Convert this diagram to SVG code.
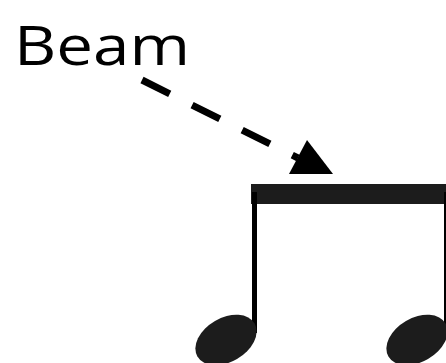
<svg xmlns="http://www.w3.org/2000/svg" width="446" height="363" viewBox="0 0 446 363">
<style>
.lbl{font-family:"Open Sans","Liberation Sans",sans-serif;font-size:54px;fill:#000}
.conn{stroke:#000;stroke-width:7;stroke-dasharray:31 25;fill:none}
.head{fill:#1c1c1c}
.stem{fill:#000}
</style>
<rect width="446" height="363" fill="#fff"/>
<g id="label">
<text class="lbl" x="14" y="65" textLength="176" lengthAdjust="spacingAndGlyphs">Beam</text>
</g>
<g id="connectors">
<line class="conn" x1="142" y1="80" x2="298" y2="158"/>
<polygon points="307,140 333,174 289,174" fill="#000"/>
</g>
<g id="notes">
<rect x="251" y="184" width="195" height="20" fill="#1c1c1c"/>
<rect class="stem" x="252" y="192" width="5" height="141"/>
<rect class="stem" x="444" y="192" width="2" height="141"/>
<ellipse class="head" cx="226" cy="340" rx="33" ry="22" transform="rotate(-30 226 340)"/>
<ellipse class="head" cx="417" cy="340" rx="33" ry="22" transform="rotate(-30 417 340)"/>
</g>
</svg>
